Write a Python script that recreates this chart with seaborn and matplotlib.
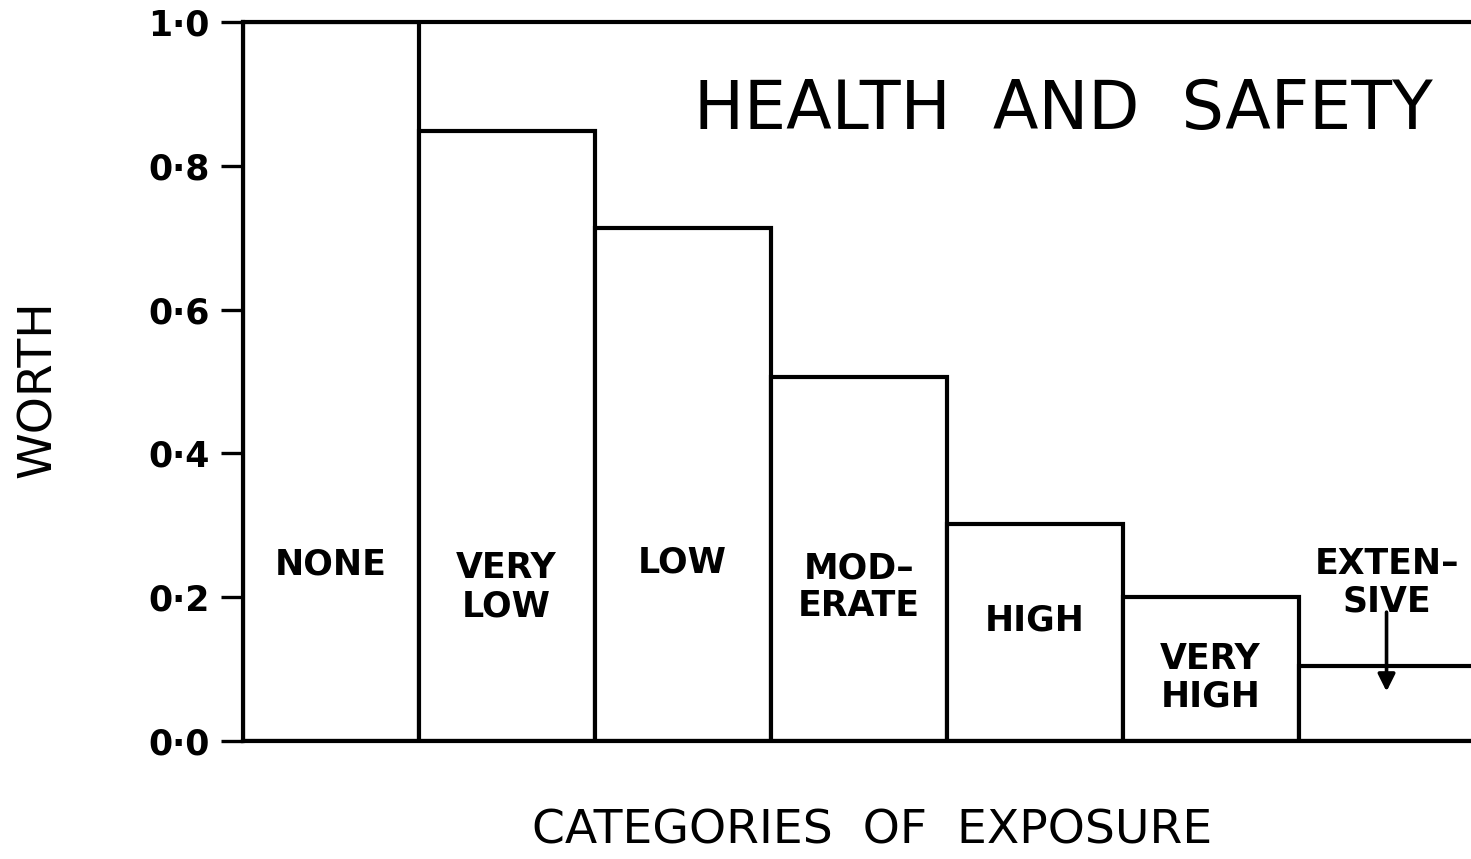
import matplotlib
matplotlib.use("Agg")
import matplotlib.pyplot as plt
import seaborn as sns

categories = ["NONE", "VERY LOW", "LOW", "MODERATE", "HIGH", "VERY HIGH", "EXTENSIVE"]
bar_labels = ["NONE", "VERY\nLOW", "LOW", "MOD\u2013\nERATE", "HIGH", "VERY\nHIGH", "EXTEN\u2013\nSIVE"]
worth = [1.0, 0.848, 0.713, 0.506, 0.302, 0.200, 0.104]
yticks = [0.0, 0.2, 0.4, 0.6, 0.8, 1.0]

sns.set_style("ticks")
plt.rcParams["font.family"] = ["DejaVu Sans"]
plt.rcParams["text.color"] = "black"

fig = plt.figure(figsize=(14.71, 8.59), dpi=100)
ax = fig.add_axes([0.165, 0.1374, 0.835, 0.837])

sns.barplot(x=categories, y=worth, color="white", edgecolor="black",
            linewidth=3, width=1.0, saturation=1, ax=ax)

ax.set_xlim(-0.5, 6.48)
ax.set_ylim(0, 1.0)
ax.set_yticks(yticks)
ax.set_yticklabels([f"{v:.1f}".replace(".", "\u00b7") for v in yticks],
                   fontsize=25, fontweight="bold", color="black")
ax.tick_params(axis="y", length=16, width=2.4, pad=8, color="black")
ax.set_xticks([])
ax.set_xlabel("")
for side in ["left", "bottom", "top"]:
    ax.spines[side].set_linewidth(3)
    ax.spines[side].set_color("black")
ax.spines["right"].set_visible(False)

# labels inside the bars
label_y = [0.245, 0.214, 0.248, 0.214, 0.168, 0.088, 0.22]
for i, (lab, yy) in enumerate(zip(bar_labels, label_y)):
    ax.text(i, yy, lab, ha="center", va="center", fontsize=25,
            fontweight="bold", linespacing=1.15, color="black")

# arrow under EXTENSIVE
ax.annotate("", xy=(6, 0.065), xytext=(6, 0.183),
            arrowprops=dict(arrowstyle="-|>", color="black", lw=2.6,
                            mutation_scale=26))

fig.text(0.723, 0.872, "HEALTH  AND  SAFETY", ha="center", va="center",
         fontsize=48, color="black")

fig.text(0.593, 0.033, "CATEGORIES  OF  EXPOSURE", ha="center", va="center",
         fontsize=34, color="black")
fig.text(0.026, 0.547, "WORTH", ha="center", va="center", rotation=90,
         fontsize=34, color="black")

fig.savefig("out.png", dpi=100)
